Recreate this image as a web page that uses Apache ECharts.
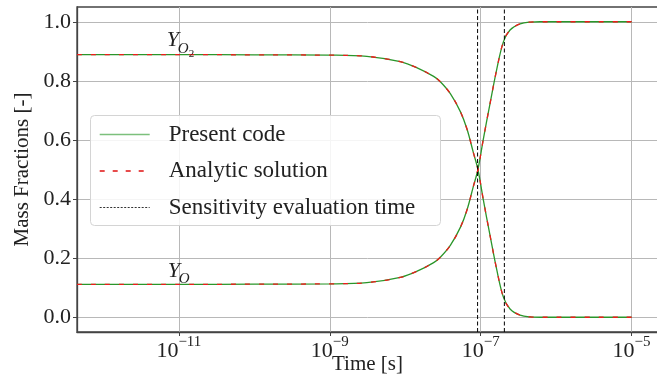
<!DOCTYPE html>
<html><head><meta charset="utf-8">
<script src="https://cdn.jsdelivr.net/npm/echarts@6/dist/echarts.min.js"></script>
<style>html,body{margin:0;padding:0;background:#fff}#c{width:657px;height:377px}</style>
</head><body><div id="c"></div>
<script>
// ---- data ----
const times = [4.467e-13, 1e-11, 1e-10, 1e-9, 3.1e-9, 8.6e-9, 1.44e-8, 2.38e-8, 2.92e-8, 3.98e-8, 5.4e-8, 6.6e-8, 8.0e-8, 9.2e-8, 1.083e-7, 1.33e-7, 1.63e-7, 2.0e-7, 2.45e-7, 3.33e-7, 4.52e-7, 6.1e-7, 1e-6, 1e-5];
const presentYO2 = [0.889, 0.889, 0.888, 0.887, 0.883, 0.865, 0.844, 0.815, 0.797, 0.756, 0.695, 0.636, 0.557, 0.500, 0.398, 0.277, 0.162, 0.068, 0.028, 0.007, 0.001, 0.0, 0.0, 0.0];
const presentYO  = [0.111, 0.111, 0.112, 0.113, 0.117, 0.135, 0.156, 0.185, 0.203, 0.244, 0.305, 0.364, 0.443, 0.500, 0.602, 0.723, 0.838, 0.932, 0.972, 0.993, 0.999, 1.0, 1.0, 1.0];
const analyticYO2 = [0.889, 0.889, 0.888, 0.887, 0.883, 0.865, 0.844, 0.815, 0.797, 0.756, 0.695, 0.636, 0.557, 0.500, 0.398, 0.277, 0.162, 0.068, 0.028, 0.007, 0.001, 0.0, 0.0, 0.0];
const analyticYO  = [0.111, 0.111, 0.112, 0.113, 0.117, 0.135, 0.156, 0.185, 0.203, 0.244, 0.305, 0.364, 0.443, 0.500, 0.602, 0.723, 0.838, 0.932, 0.972, 0.993, 0.999, 1.0, 1.0, 1.0];
const sensitivityTimes = [9.1e-8, 2.06e-7];
const xTickValues = [1e-11, 1e-9, 1e-7, 1e-5];
const yTickValues = [0, 0.2, 0.4, 0.6, 0.8, 1.0];
const xLimits = [4.467e-13, 2.239e-5];
const yLimits = [-0.05, 1.05];
const seriesNames = ['Present code', 'Analytic solution', 'Sensitivity evaluation time'];
const annotations = [
  {t: 6.9e-12, v: 0.913, sub: 'O', sub2: '2'},
  {t: 7.1e-12, v: 0.133, sub: 'O', sub2: ''}
];

const FONT = "'Liberation Serif', 'DejaVu Serif', serif";
const GREEN = '#2a962a', RED = '#ee1c1c';
const pair = (xs, ys) => xs.map((t, i) => [t, ys[i]]);
// vertical full-height segments at each sensitivity time (broken by '-')
const sensData = [];
sensitivityTimes.forEach(t => { sensData.push([t, yLimits[0]], [t, yLimits[1]], [t, '-']); });

const chart = echarts.init(document.getElementById('c'), null, {renderer: 'canvas'});
const lineBase = {type: 'line', symbol: 'none', showSymbol: false, smooth: 0.35, animation: false, silent: true};

chart.setOption({
  backgroundColor: '#fff',
  animation: false,
  grid: {left: 77, top: 7, right: -1, bottom: 45, outerBoundsMode: 'none', containLabel: false, show: true, borderColor: '#444', borderWidth: 1.3, backgroundColor: 'transparent'},
  xAxis: {
    type: 'log', logBase: 10, min: xLimits[0], max: xLimits[1],
    name: 'Time [s]', nameLocation: 'middle', nameGap: 22, nameMoveOverlap: false,
    nameTextStyle: {fontFamily: FONT, fontSize: 21, color: '#222'},
    axisLine: {show: true, onZero: false, lineStyle: {color: '#444', width: 1.3}},
    axisTick: {show: true, inside: false, length: 4, lineStyle: {color: '#444'}, customValues: xTickValues},
    minorTick: {show: false},
    splitLine: {show: true, lineStyle: {color: '#b8b8b8', width: 1}},
    axisLabel: {
      customValues: xTickValues, margin: 3,
      formatter: v => { const e = Math.round(Math.log10(v)); return '{b|10}{e|' + (e < 0 ? '\u2212' : '') + Math.abs(e) + '}'; },
      rich: {
        b: {fontFamily: FONT, fontSize: 22, color: '#222', verticalAlign: 'bottom', lineHeight: 27},
        e: {fontFamily: FONT, fontSize: 15, color: '#222', verticalAlign: 'top', lineHeight: 15}
      }
    }
  },
  yAxis: {
    type: 'value', min: yLimits[0], max: yLimits[1],
    name: 'Mass Fractions [-]', nameLocation: 'middle', nameGap: 44, nameMoveOverlap: false,
    nameTextStyle: {fontFamily: FONT, fontSize: 21, color: '#222'},
    axisLine: {show: true, onZero: false, lineStyle: {color: '#444', width: 1.3}},
    axisTick: {show: true, inside: false, length: 4, lineStyle: {color: '#444'}, customValues: yTickValues},
    splitLine: {show: true, lineStyle: {color: '#b8b8b8', width: 1}},
    axisLabel: {customValues: yTickValues, margin: 6, fontFamily: FONT, fontSize: 22, color: '#222', formatter: v => v.toFixed(1)}
  },
  legend: {
    orient: 'vertical', left: 99, top: 123, padding: 0, itemWidth: 50, itemHeight: 22, itemGap: 13.5,
    selectedMode: false,
    itemStyle: {opacity: 0},
    textStyle: {fontFamily: FONT, fontSize: 23, color: '#222', padding: [0, 0, 0, 14]},
    data: [
      {name: seriesNames[0], lineStyle: {color: '#7cc07c', width: 1.4}},
      {name: seriesNames[1], lineStyle: {width: 1.4, color: '#e01010', type: [5, 8]}},
      {name: seriesNames[2], lineStyle: {type: [2, 1.5], width: 1, color: '#333'}}
    ]
  },
  series: [
    Object.assign({}, lineBase, {name: seriesNames[0], data: pair(times, presentYO2), color: GREEN, lineStyle: {color: GREEN, width: 1.3}, z: 2}),
    Object.assign({}, lineBase, {name: seriesNames[0], data: pair(times, presentYO), color: GREEN, lineStyle: {color: GREEN, width: 1.3}, z: 2}),
    Object.assign({}, lineBase, {name: seriesNames[1], data: pair(times, analyticYO2), color: RED, lineStyle: {color: RED, width: 1.3, type: [5, 9]}, z: 3}),
    Object.assign({}, lineBase, {name: seriesNames[1], data: pair(times, analyticYO), color: RED, lineStyle: {color: RED, width: 1.3, type: [5, 9]}, z: 3}),
    Object.assign({}, lineBase, {name: seriesNames[2], data: sensData, smooth: false, connectNulls: false, color: '#000', lineStyle: {color: '#000', width: 1, type: [4, 2.5]}, z: 4})
  ]
});

// legend box + annotation labels, positioned from data coordinates
const graphics = [{
  type: 'rect', z: 3, silent: true,
  shape: {x: 90.5, y: 115.5, width: 350, height: 110, r: 4},
  style: {fill: 'rgba(255,255,255,0.85)', stroke: '#d4d4d4', lineWidth: 1}
}];
annotations.forEach(a => {
  const p = chart.convertToPixel({gridIndex: 0}, [a.t, a.v]);
  const y = p[1] + 4;
  graphics.push({type: 'text', z: 5, silent: true, x: p[0], y: y,
    style: {text: 'Y', fontFamily: FONT, fontStyle: 'italic', fontSize: 22, fill: '#222', align: 'left', verticalAlign: 'bottom'}});
  graphics.push({type: 'text', z: 5, silent: true, x: p[0] + 11, y: y + 5,
    style: {text: a.sub, fontFamily: FONT, fontStyle: 'italic', fontSize: 15, fill: '#222', align: 'left', verticalAlign: 'bottom'}});
  if (a.sub2) graphics.push({type: 'text', z: 5, silent: true, x: p[0] + 22, y: y + 8,
    style: {text: a.sub2, fontFamily: FONT, fontSize: 11, fill: '#222', align: 'left', verticalAlign: 'bottom'}});
});
chart.setOption({graphic: graphics});
</script>
</body></html>
